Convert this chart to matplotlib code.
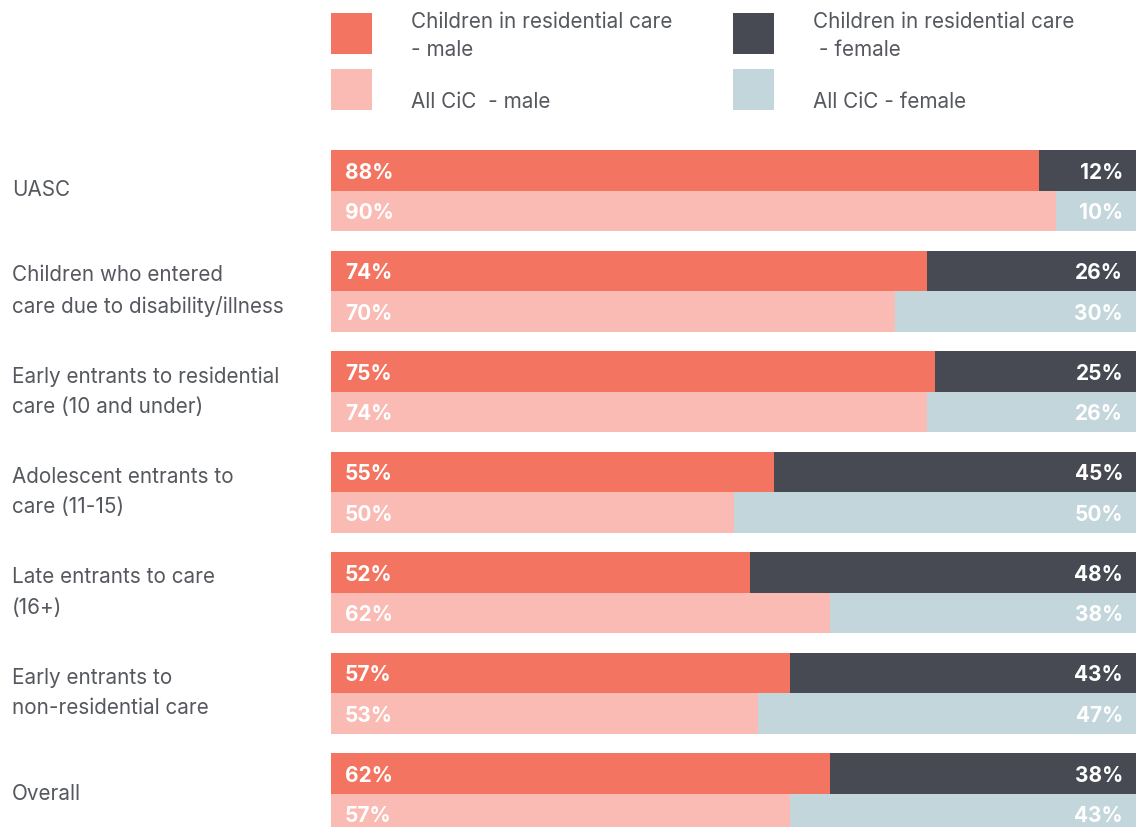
import numpy as np
import matplotlib.pyplot as plt
from matplotlib.patches import Rectangle

plt.rcParams['font.family'] = ['Inter', 'DejaVu Sans']

# data
categories = [
    "UASC",
    "Children who entered\ncare due to disability/illness",
    "Early entrants to residential\ncare (10 and under)",
    "Adolescent entrants to\ncare (11-15)",
    "Late entrants to care\n(16+)",
    "Early entrants to\nnon-residential care",
    "Overall",
]
res_male = [88, 74, 75, 55, 52, 57, 62]
res_female = [12, 26, 25, 45, 48, 43, 38]
all_male = [90, 70, 74, 50, 62, 53, 57]
all_female = [10, 30, 26, 50, 38, 47, 43]

legend_labels = [
    "Children in residential care\n- male",
    "Children in residential care\n - female",
    "All CiC  - male",
    "All CiC - female",
]

C_RES_M = "#f27461"
C_RES_F = "#474a52"
C_ALL_M = "#f9bbb4"
C_ALL_F = "#c3d6dc"
TEXT = "#55585e"

W, H = 1137, 827
fig = plt.figure(figsize=(W / 100, H / 100), dpi=100)

# bar axes in pixel-like units on y
ax = fig.add_axes([331 / W, 0, 805 / W, 1])
ax.set_xlim(0, 100)
ax.set_ylim(H, 0)
ax.axis("off")

top0 = 150
pitch = 100.5
bh = 40.5
n = len(categories)
tops = top0 + np.arange(n) * pitch
y_res = tops + bh / 2
y_all = tops + bh * 1.5

ax.barh(y_res, res_male, height=bh, color=C_RES_M, linewidth=0)
ax.barh(y_res, res_female, left=res_male, height=bh, color=C_RES_F, linewidth=0)
ax.barh(y_all, all_male, height=bh, color=C_ALL_M, linewidth=0)
ax.barh(y_all, all_female, left=all_male, height=bh, color=C_ALL_F, linewidth=0)

lab_kw = dict(color="white", fontsize=15, fontweight="bold", va="center")
for i in range(n):
    ax.text(1.75, y_res[i] + 2.5, f"{res_male[i]}%", ha="left", **lab_kw)
    ax.text(98.4, y_res[i] + 2.5, f"{res_female[i]}%", ha="right", **lab_kw)
    ax.text(1.75, y_all[i] + 2.5, f"{all_male[i]}%", ha="left", **lab_kw)
    ax.text(98.4, y_all[i] + 2.5, f"{all_female[i]}%", ha="right", **lab_kw)

# category labels on the left
for i, cat in enumerate(categories):
    fig.text(12 / W, 1 - (tops[i] + bh) / H, cat, ha="left", va="center",
             fontsize=14.9, color=TEXT, linespacing=1.65)

# legend drawn by hand
leg_cols = [331, 733]
leg_rows = [13, 69]
leg_colors = [C_RES_M, C_RES_F, C_ALL_M, C_ALL_F]
for k, (lab, col) in enumerate(zip(legend_labels, leg_colors)):
    x0 = leg_cols[k % 2]
    y0 = leg_rows[k // 2]
    fig.patches.append(Rectangle((x0 / W, 1 - (y0 + 41) / H), 41 / W, 41 / H,
                                 transform=fig.transFigure, color=col, linewidth=0))
    if k < 2:
        fig.text((x0 + 80) / W, 1 - 36 / H, lab, ha="left", va="center",
                 fontsize=14.9, color=TEXT, linespacing=1.5)
    else:
        fig.text((x0 + 80) / W, 1 - 102 / H, lab, ha="left", va="center",
                 fontsize=14.9, color=TEXT)

fig.savefig("out.png", dpi=100)
